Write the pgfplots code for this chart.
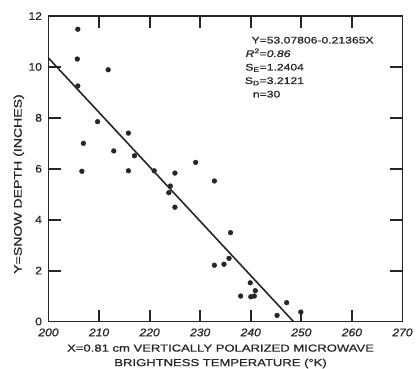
\documentclass[border=0pt]{standalone}
\usepackage{fontspec}
\setmainfont{Liberation Sans}[FakeStretch=1.28, FakeBold=0.8]
\newfontfamily\tickfont{Liberation Sans}[FakeStretch=1.1, FakeBold=0.8]
\usepackage{pgfplots}
\pgfplotsset{compat=1.18}
\definecolor{ink}{gray}{0.15}
\begin{document}
\begin{tikzpicture}
\begin{axis}[
  at={(0,0)}, anchor=south west,
  scale only axis, width=354pt, height=305.5pt,
  xmin=200, xmax=270, ymin=0, ymax=12,
  xtick={200,210,...,270}, ytick={0,2,...,12},
  major tick length=0pt,
  axis line style={line width=1.3pt, draw=ink},
  /pgf/number format/assume math mode=true,
  xticklabel style={font=\tickfont\fontsize{11}{12}\selectfont\itshape, text=ink, yshift=-3.5pt},
  yticklabel style={font=\tickfont\fontsize{11}{12}\selectfont, text=ink, xshift=-3pt},
  xlabel={X=0.81 cm VERTICALLY POLARIZED MICROWAVE\\BRIGHTNESS TEMPERATURE (\textdegree K)},
  xlabel style={font=\fontsize{10.2}{14.5}\selectfont, text=ink, align=center, inner sep=0pt,
    at={(axis description cs:0.486,-0.0746)}, anchor=north},
  ylabel={Y=SNOW DEPTH (INCHES)},
  ylabel style={font=\fontsize{11}{12}\selectfont, text=ink, inner sep=0pt,
    at={(axis description cs:-0.0757,0.45)}, anchor=base},
]
% inward tick marks, 12pt long
\pgfplotsinvokeforeach{210,220,230,240,250,260}{
  \addplot[draw=black!85, line width=2pt, forget plot] coordinates {(#1,0) (#1,0.4714)};
}
\pgfplotsinvokeforeach{210,220,230,240,250,260}{
  \addplot[draw=black!85, line width=2pt, forget plot] coordinates {(#1,12) (#1,11.5286)};
}
\pgfplotsinvokeforeach{2,4,6,8,10}{
  \addplot[draw=black!85, line width=2pt, forget plot] coordinates {(200,#1) (202.373,#1)};
}
\pgfplotsinvokeforeach{2,4,6,8,10}{
  \addplot[draw=black!85, line width=2pt, forget plot] coordinates {(270,#1) (267.627,#1)};
}
\addplot[only marks, mark=*, mark size=2.4pt, ink] coordinates {
(205.8,11.48) (205.7,10.31) (205.8,9.25) (211.8,9.89) (209.7,7.85)
(206.9,7.00) (206.6,5.90) (212.9,6.70) (215.8,7.40) (217.0,6.51)
(215.8,5.92) (220.9,5.92) (225.0,5.83) (229.1,6.25) (224.1,5.32)
(223.8,5.06) (225.0,4.49) (232.8,5.52) (236.0,3.49) (232.8,2.21)
(234.7,2.25) (235.7,2.48) (239.9,1.52) (240.9,1.21) (240.0,0.97)
(240.7,1.00) (238.0,1.00) (247.1,0.74) (245.2,0.24) (249.9,0.37)
};
\addplot[line width=1.6pt, ink] coordinates {(200,10.348) (248.43,0)};
\node[anchor=north west, inner sep=0pt, text=ink, font=\fontsize{9.5}{13.5}\selectfont]
  at (axis cs:238.8,11.30) {%
  \begin{tabular}{@{}r@{=}l@{}}
  Y & 53.07806-0.21365X\\
  \textit{R}\textsuperscript{2} & \textit{0.86}\\
  S\textsubscript{E} & 1.2404\\
  S\textsubscript{D} & 3.2121\\
  n & 30
  \end{tabular}};
\end{axis}
\pgfresetboundingbox
\useasboundingbox (-48.5pt,-46.5pt) rectangle (367.5pt,321.5pt);
\end{tikzpicture}
\end{document}
